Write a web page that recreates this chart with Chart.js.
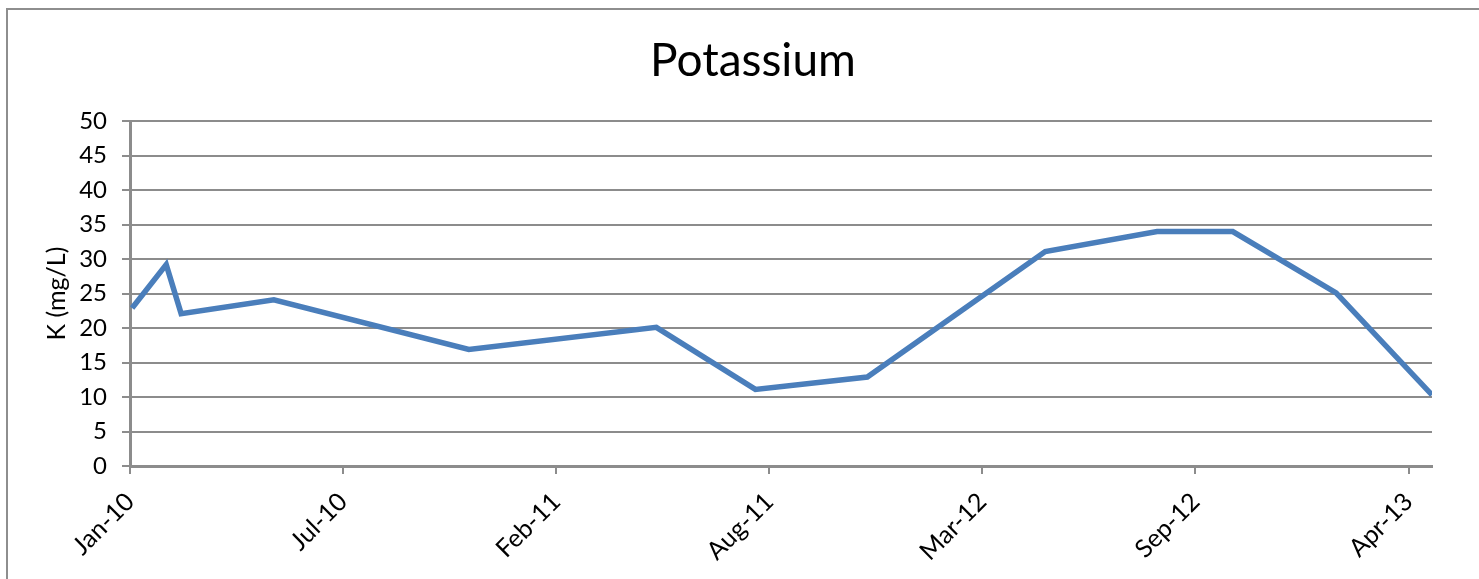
<!DOCTYPE html>
<html>
<head>
<meta charset="utf-8">
<script src="https://cdn.jsdelivr.net/npm/chart.js@4.4.0/dist/chart.umd.min.js"></script>
<style>
    body { margin: 0; background: #fff; }
    #wrap { position: relative; width: 1479px; height: 579px; overflow: hidden; }
    #frame { position: absolute; left: 6px; top: 8px; width: 1600px; height: 700px;
             border-top: 2px solid #8e8e8e; border-left: 2px solid #8e8e8e; }
    canvas { position: absolute; left: 0; top: 0; }
</style>
</head>
<body>
<div id="wrap">
    <div id="frame"></div>
    <canvas id="kChart" width="1479" height="579"></canvas>
</div>
<script>
const sampleDates = ["2010-01-03", "2010-02-04", "2010-02-18", "2010-05-16", "2010-11-15",
    "2011-05-10", "2011-08-11", "2011-11-24", "2012-05-09", "2012-08-22",
    "2012-11-01", "2013-02-06", "2013-05-07"];
const potassium = [22.9, 29.2, 22.1, 24.1, 16.9, 20.1, 11.1, 12.9, 31.1, 34.0, 34.0, 25.1, 10.3];
const yTicks = [0, 5, 10, 15, 20, 25, 30, 35, 40, 45, 50];
// date axis ticks, days after 1 Jan 2010 (Excel major unit 200 days)
const xTickDays = [0, 200, 400, 600, 800, 1000, 1200];
const monthNames = ["Jan", "Feb", "Mar", "Apr", "May", "Jun", "Jul", "Aug", "Sep", "Oct", "Nov", "Dec"];

const origin = Date.UTC(2010, 0, 1);
const dayMs = 86400000;
const toDay = s => (Date.parse(s + "T00:00:00Z") - origin) / dayMs;
const points = sampleDates.map((d, i) => ({ x: toDay(d), y: potassium[i] }));

function fmtDate(v) {
    const d = new Date(origin + v * dayMs);
    return monthNames[d.getUTCMonth()] + "-" + String(d.getUTCFullYear()).slice(2);
}

const font = "Lato, 'Open Sans', sans-serif";
const gridGray = "#8c8c8c";

new Chart(document.getElementById("kChart"), {
    type: "line",
    data: {
        datasets: [{
            label: "K",
            data: points,
            borderColor: "#4a7ebb",
            borderWidth: 5.5,
            borderJoinStyle: "miter",
            pointRadius: 0,
            tension: 0,
            fill: false
        }]
    },
    options: {
        responsive: false,
        animation: false,
        layout: { padding: { left: 74, right: 47, top: 30, bottom: 0 } },
        plugins: {
            legend: { display: false },
            tooltip: { enabled: false },
            title: {
                display: true,
                text: "Potassium",
                color: "#000",
                font: { family: font, size: 46, weight: "normal" },
                padding: { top: 4, bottom: 32 }
            }
        },
        scales: {
            x: {
                type: "linear",
                min: 0,
                max: toDay(sampleDates[sampleDates.length - 1]),
                afterFit: s => { s.height = 113; },
                afterBuildTicks: s => { s.ticks = xTickDays.map(v => ({ value: v })); },
                grid: { drawOnChartArea: false, drawTicks: true, tickLength: 8, color: gridGray, lineWidth: 2 },
                border: { color: gridGray, width: 3 },
                ticks: {
                    minRotation: 45,
                    maxRotation: 45,
                    padding: 13,
                    color: "#000",
                    font: { family: font, size: 25 },
                    callback: v => fmtDate(v)
                }
            },
            y: {
                min: 0,
                max: 50,
                afterFit: s => { s.width = 56; },
                afterBuildTicks: s => { s.ticks = yTicks.map(v => ({ value: v })); },
                grid: { color: gridGray, lineWidth: 2, tickLength: 8 },
                border: { color: gridGray, width: 3 },
                title: {
                    display: true,
                    text: "K (mg/L)",
                    color: "#000",
                    font: { family: font, size: 25 },
                    padding: { top: -32, bottom: 0 }
                },
                ticks: {
                    padding: 15,
                    color: "#000",
                    font: { family: font, size: 24 }
                }
            }
        }
    }
});
</script>
</body>
</html>
